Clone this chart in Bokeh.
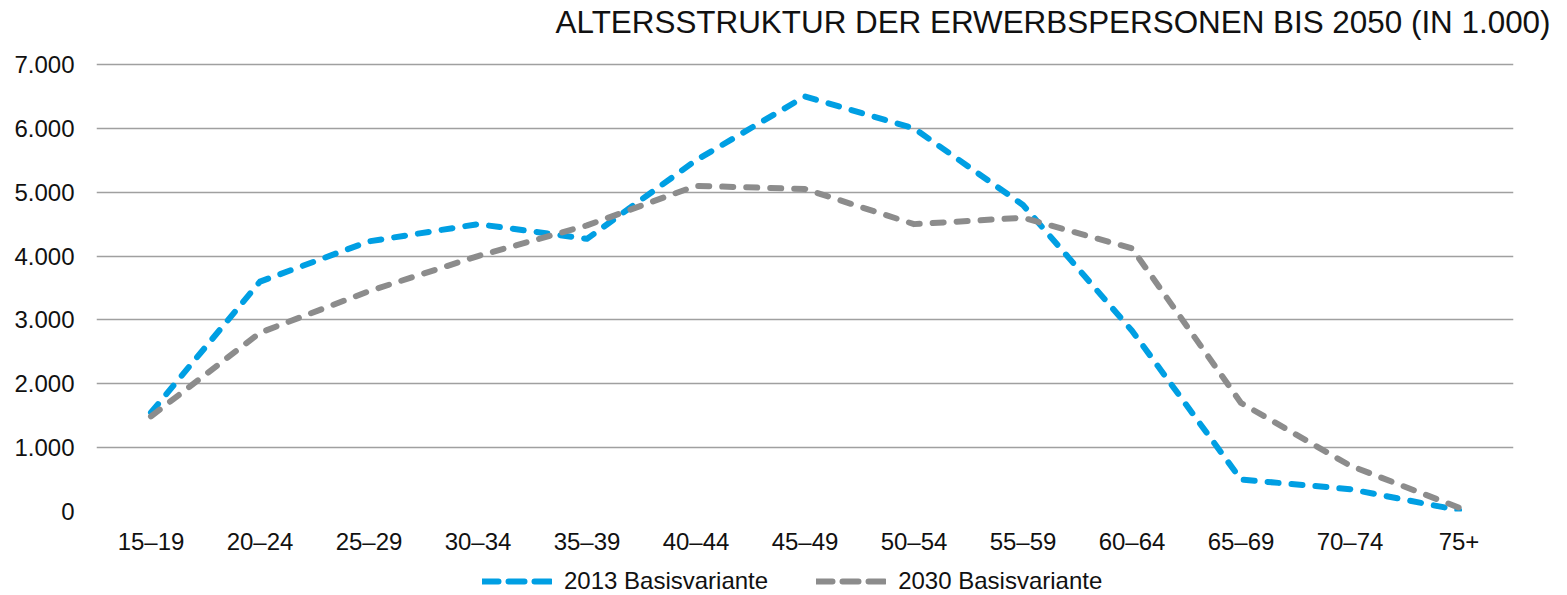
from bokeh.plotting import figure
from bokeh.layouts import column
from bokeh.models import Range1d, FactorRange, Legend, LegendItem, ColumnDataSource, CustomJSTickFormatter
from bokeh.embed import file_html
from bokeh.resources import INLINE

categories = ["15–19", "20–24", "25–29", "30–34", "35–39", "40–44", "45–49",
              "50–54", "55–59", "60–64", "65–69", "70–74", "75+"]
series_2013 = [1550, 3600, 4230, 4500, 4270, 5500, 6500, 6000, 4800, 2830, 500, 350, 20]
series_2030 = [1490, 2800, 3450, 4000, 4480, 5100, 5050, 4500, 4600, 4120, 1700, 720, 60]
y_ticks = [0, 1000, 2000, 3000, 4000, 5000, 6000, 7000]
series_names = ["2013 Basisvariante", "2030 Basisvariante"]
title_text = "ALTERSSTRUKTUR DER ERWERBSPERSONEN BIS 2050 (IN 1.000)"

FONT = "Liberation Sans"
BLUE = "#009FE3"
GRAY = "#8C8C8C"
TXT = "#111111"
W = 1560


def bare(fig):
    fig.outline_line_color = None
    fig.xgrid.grid_line_color = None
    fig.ygrid.grid_line_color = None
    return fig


# ---- header carrying the title
head = bare(figure(width=W, height=52, x_range=Range1d(0, 1), y_range=Range1d(0, 1),
                   output_backend="svg", toolbar_location=None,
                   x_axis_location=None, y_axis_location=None, min_border=0))
head.title.text = title_text
head.title.align = "right"
head.title.text_font = FONT
head.title.text_font_size = "31.4px"
head.title.text_font_style = "normal"
head.title.text_color = TXT
head.title.standoff = 4
head.title.offset = -37

# ---- main chart
p = figure(width=W, height=508, x_range=FactorRange(*categories, range_padding=0),
           y_range=Range1d(0, 7031), output_backend="svg", toolbar_location=None,
           min_border_left=96, min_border_right=47, min_border_top=10, min_border_bottom=49)
p.outline_line_color = None

src = ColumnDataSource(dict(x=categories, a=series_2013, b=series_2030))
p.line("x", "a", source=src, line_color=BLUE, line_width=6, line_dash="11 13",
       line_cap="round", line_join="round")
p.line("x", "b", source=src, line_color=GRAY, line_width=6, line_dash="11 13",
       line_cap="round", line_join="round")

p.xgrid.grid_line_color = None
p.ygrid.grid_line_color = "#A0A0A0"
p.ygrid.grid_line_width = 1.5
p.yaxis.ticker = y_ticks
p.yaxis.formatter = CustomJSTickFormatter(code="return tick == 0 ? '0' : (tick/1000).toFixed(0) + '.000';")

for ax in (p.xaxis, p.yaxis):
    ax.axis_line_color = None
    ax.major_tick_line_color = None
    ax.minor_tick_line_color = None
    ax.major_label_text_font = FONT
    ax.major_label_text_font_size = "24px"
    ax.major_label_text_color = TXT
p.xaxis.major_label_standoff = 10
p.yaxis.major_label_standoff = 16

# ---- legend strip (frame is aligned with the chart's frame by the column)
leg = bare(figure(width=W, height=35, x_range=Range1d(0, 1), y_range=Range1d(0, 1),
                  output_backend="svg", toolbar_location=None,
                  x_axis_location=None, y_axis_location=None, min_border=0))
l1 = leg.line(x=[0], y=[0], line_color=BLUE, line_width=6, line_dash="16 10", line_cap="round")
l2 = leg.line(x=[0], y=[0], line_color=GRAY, line_width=6, line_dash="16 10", line_cap="round")
legend = Legend(items=[LegendItem(label=series_names[0], renderers=[l1]),
                       LegendItem(label=series_names[1], renderers=[l2])],
                orientation="horizontal", location=(386, 0),
                label_text_font=FONT, label_text_font_size="24px", label_text_color=TXT,
                glyph_width=70, glyph_height=24, label_height=24, label_standoff=12,
                spacing=48, padding=0, margin=0,
                border_line_color=None, background_fill_alpha=0)
leg.add_layout(legend)

layout = column(head, p, leg, spacing=0)
open("out.html", "w").write(file_html(layout, INLINE))
